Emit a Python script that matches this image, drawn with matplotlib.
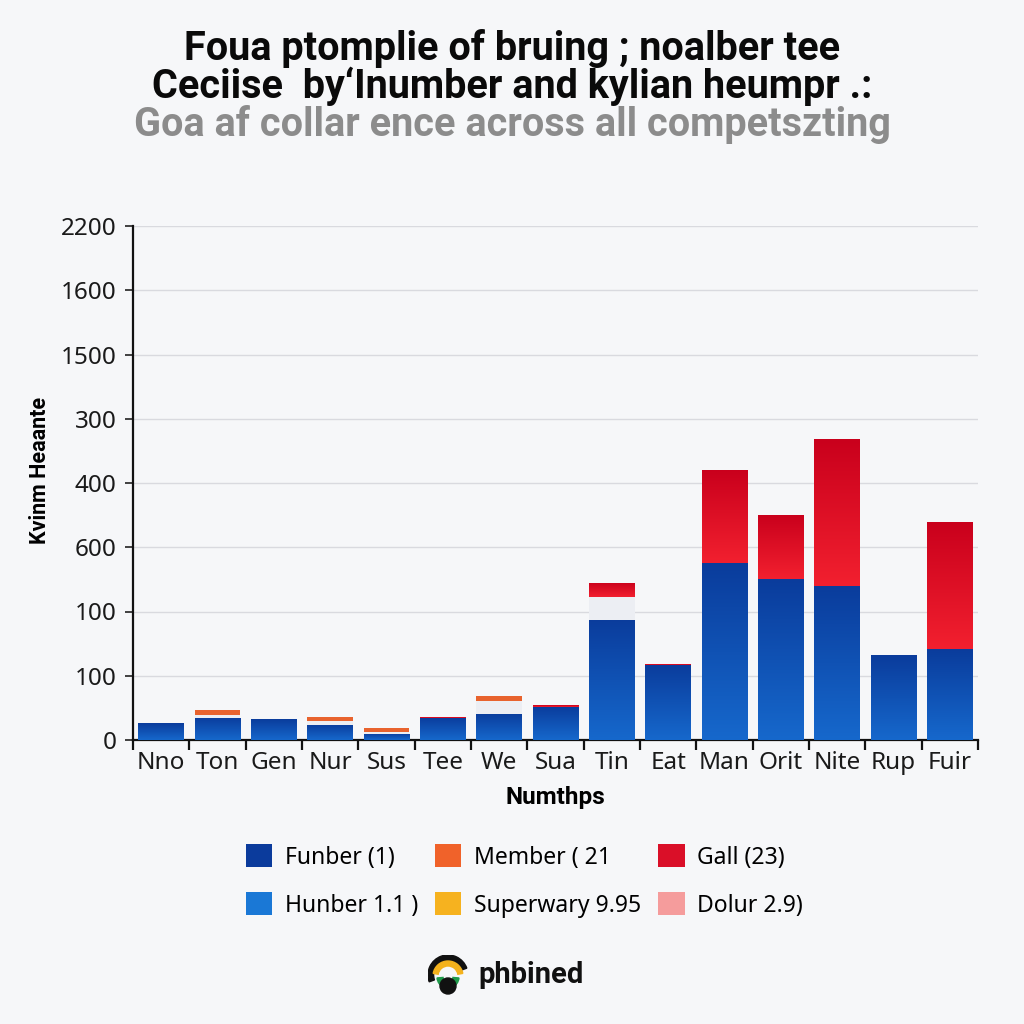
import numpy as np
import matplotlib
matplotlib.use("Agg")
import matplotlib.pyplot as plt
from matplotlib.colors import LinearSegmentedColormap
from matplotlib.patches import Wedge, Circle

# ---------------- data ----------------
categories = ["Nno", "Ton", "Gen", "Nur", "Sus", "Tee", "We", "Sua", "Tin",
              "Eat", "Man", "Orit", "Nite", "Rup", "Fuir"]
blue_vals = [26, 35, 32, 24, 10, 35, 41, 52, 187, 117, 275, 250, 240, 132, 141]
gap_vals = [0, 4, 0, 6, 3, 0, 20, 0, 35, 0, 0, 0, 0, 0, 0]
orange_vals = [0, 8, 0, 6, 5, 0, 7, 0, 0, 0, 0, 0, 0, 0, 0]
red_vals = [0, 0, 0, 0, 0, 1, 0, 2, 22, 1, 146, 100, 228, 1, 199]

ytick_values = [0, 100, 200, 300, 400, 500, 600, 700, 800]
ytick_labels = ["0", "100", "100", "600", "400", "300", "1500", "1600", "2200"]

legend_labels = ["Funber (1)", "Hunber 1.1 )", "Member ( 21", "Superwary 9.95",
                 "Gall (23)", "Dolur 2.9)"]
legend_colors = ["#0b3b9c", "#1a78d6", "#f0622a", "#f6b21f", "#da0f28", "#f59c9c"]

title_l1 = "Foua ptomplie of bruing ; noalber tee"
title_l2 = "Ceciise  by\u2018Inumber and kylian heumpr .:"
title_l3 = "Goa af collar ence across all competszting"
xlabel = "Numthps"
ylabel = "Kvinm Heaante"
logo_text = "phbined"

# ---------------- style ----------------
BG = "#f6f7f9"
plt.rcParams["font.family"] = ["Noto Sans", "DejaVu Sans"]
BOLD = ["Roboto", "DejaVu Sans"]

fig = plt.figure(figsize=(10.24, 10.24), dpi=100, facecolor=BG)
ax = fig.add_axes([133 / 1024, 1 - 740 / 1024, (978 - 133) / 1024, (740 - 226) / 1024])
ax.set_facecolor(BG)

x = np.arange(len(categories))
w = 0.81

blue_cmap = LinearSegmentedColormap.from_list("b", ["#1668cc", "#0a3c9c"])
red_cmap = LinearSegmentedColormap.from_list("r", ["#f2202f", "#c9001c"])
grad = np.linspace(0, 1, 256).reshape(-1, 1)

def gradient_bars(bars, cmap):
    for p in bars:
        h = p.get_height()
        if h <= 0:
            continue
        x0, y0 = p.get_x(), p.get_y()
        im = ax.imshow(grad, extent=[x0, x0 + p.get_width(), y0, y0 + h],
                       origin="lower", aspect="auto", cmap=cmap, zorder=3)
        im.set_clip_path(p)

bottom = np.zeros(len(categories))
b1 = ax.bar(x, blue_vals, w, bottom=bottom, color="#0d4aae", zorder=2)
gradient_bars(b1, blue_cmap)
bottom += np.array(blue_vals)
ax.bar(x, gap_vals, w, bottom=bottom, color="#eceef3", zorder=2)
bottom += np.array(gap_vals)
ax.bar(x, orange_vals, w, bottom=bottom, color="#e8632e", zorder=2)
bottom += np.array(orange_vals)
b4 = ax.bar(x, red_vals, w, bottom=bottom, color="#de1024", zorder=2)
gradient_bars(b4, red_cmap)

ax.set_xlim(-0.5, len(categories) - 0.5)
ax.set_ylim(0, 800)

ax.set_yticks(ytick_values)
ax.set_yticklabels(ytick_labels, fontsize=17.5, color="#1a1a1a")
ax.tick_params(axis="y", length=6, width=1.2, color="#222222", pad=6)

ax.set_xticks(x)
ax.set_xticklabels(categories, fontsize=17.5, color="#1a1a1a")
ax.set_xticks(np.arange(-0.5, len(categories), 1.0), minor=True)
ax.tick_params(axis="x", which="major", length=0, pad=8)
ax.tick_params(axis="x", which="minor", length=7, width=1.6, color="#111111", direction="out")

ax.grid(axis="y", color="#d9dadf", linewidth=1.0, zorder=0)
ax.set_axisbelow(True)
for s in ["top", "right"]:
    ax.spines[s].set_visible(False)
for s in ["left", "bottom"]:
    ax.spines[s].set_color("#111111")
    ax.spines[s].set_linewidth(1.6)

ax.set_xlabel(xlabel, fontsize=17.5, fontweight="bold", family=BOLD, labelpad=8)
fig.text(40 / 1024, 1 - 470 / 1024, ylabel, rotation=90, fontsize=15.5,
         fontweight="bold", family=BOLD, ha="center", va="center")

# titles
fig.text(0.5, 1 - 48 / 1024, title_l1, ha="center", va="center", fontsize=28.5,
         fontweight="bold", family=BOLD, color="#0a0a0a")
fig.text(0.5, 1 - 86 / 1024, title_l2, ha="center", va="center", fontsize=28.5,
         fontweight="bold", family=BOLD, color="#0a0a0a")
fig.text(0.5, 1 - 125 / 1024, title_l3, ha="center", va="center", fontsize=28.5,
         fontweight="bold", family=BOLD, color="#8c8c8c")

# legend
handles = [plt.Rectangle((0, 0), 1, 1, facecolor=c, edgecolor="none") for c in legend_colors]
fig.legend(handles, legend_labels, loc="center", bbox_to_anchor=(0.512, 1 - 881 / 1024),
           ncol=3, frameon=False, fontsize=16.5, handlelength=1.15, handleheight=1.15,
           columnspacing=0.75, handletextpad=0.55, labelspacing=1.0)

# logo
lax = fig.add_axes([428 / 1024, 1 - 995 / 1024, 40 / 1024, 40 / 1024])
lax.set_xlim(-1, 1)
lax.set_ylim(-1, 1)
lax.set_aspect("equal")
lax.axis("off")
lax.add_patch(Wedge((0, 0), 1.0, 20, 200, width=0.28, color="#111111"))
lax.add_patch(Wedge((0, -0.05), 0.75, 10, 170, width=0.25, color="#f4b21c"))
lax.add_patch(Wedge((0, -0.1), 0.55, 185, 250, width=0.3, color="#1f9a4a"))
lax.add_patch(Wedge((0, -0.1), 0.55, 290, 355, width=0.3, color="#1f9a4a"))
lax.add_patch(Wedge((0, -0.1), 0.5, 250, 290, width=0.25, color="#e0304a"))
lax.add_patch(Circle((0, -0.55), 0.4, color="#111111"))
fig.text(478 / 1024, 1 - 975 / 1024, logo_text, ha="left", va="center", fontsize=21,
         fontweight="bold", family=BOLD, color="#111111")

fig.savefig("out.png", dpi=100, facecolor=BG)
